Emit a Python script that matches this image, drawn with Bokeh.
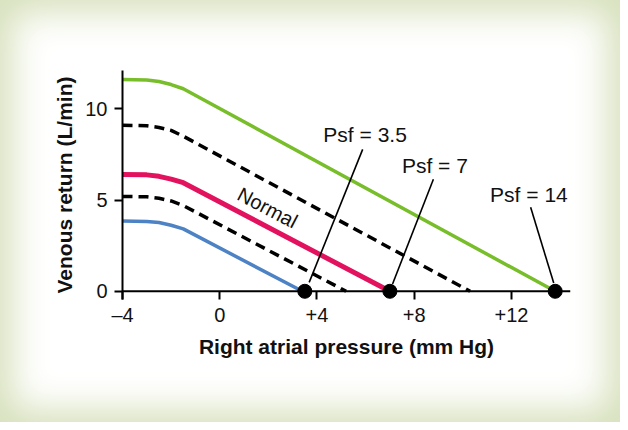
from bokeh.plotting import figure
from bokeh.models import Range1d, FixedTicker, Label, Span
from bokeh.core.properties import value
from bokeh.embed import file_html
from bokeh.resources import INLINE

# ---- data ----
green_x = [-4, -3, -2.5, -2, -1.5, 13.8]
green_y = [11.6, 11.58, 11.5, 11.33, 11.1, 0]
upper_dash_x = [-4, -3, -2.5, -2, -1.5, 10.3]
upper_dash_y = [9.1, 9.07, 8.98, 8.82, 8.5, 0]
red_x = [-4, -3, -2.5, -2, -1.5, 7.0]
red_y = [6.4, 6.38, 6.3, 6.15, 5.95, 0]
lower_dash_x = [-4, -3, -2.5, -2, -1.5, 5.2]
lower_dash_y = [5.2, 5.18, 5.1, 4.95, 4.7, 0]
blue_x = [-4, -3, -2.5, -2, -1.5, 3.4]
blue_y = [3.85, 3.83, 3.77, 3.62, 3.42, 0]

psf_x = [3.5, 7.0, 13.8]
psf_y = [0, 0, 0]
psf_labels = ["Psf = 3.5", "Psf = 7", "Psf = 14"]
psf_label_x = [5.98, 8.85, 12.72]
psf_label_y = [8.61, 6.89, 5.29]
leader_x0 = [5.88, 8.79, 12.79]
leader_y0 = [7.78, 6.14, 4.60]
leader_x1 = [3.68, 7.11, 13.74]
leader_y1 = [0.49, 0.40, 0.45]

x_ticks = [-4, 0, 4, 8, 12]
x_tick_labels = ["\u20134", "0", "+4", "+8", "+12"]
y_ticks = [0, 5, 10]

FONT = "Liberation Sans"

p = figure(width=620, height=422, output_backend="svg", toolbar_location=None,
           x_range=Range1d(-4, 14.43), y_range=Range1d(-0.45, 12.1),
           min_border_left=122, min_border_right=50, min_border_top=70,
           min_border_bottom=123)
p.border_fill_color = None
p.background_fill_color = None
p.outline_line_color = None
p.grid.visible = False
p.styles = {"background-color": "#ffffff",
            "box-shadow": "inset 0 0 36px 12px #d6e0bb"}

# axes
xa = p.xaxis[0]
xa.ticker = FixedTicker(ticks=x_ticks)
xa.major_label_overrides = dict(zip(x_ticks, x_tick_labels))
ya = p.yaxis[0]
ya.ticker = FixedTicker(ticks=y_ticks)
for ax in (xa, ya):
    ax.axis_line_width = 2
    ax.axis_line_color = "black"
    ax.major_tick_line_width = 2
    ax.major_tick_line_color = "black"
    ax.minor_tick_line_color = None
    ax.major_label_text_font = FONT
    ax.major_label_text_font_size = "20px"
    ax.major_label_text_color = "#111111"
    ax.axis_label_text_font = FONT
    ax.axis_label_text_font_size = "21px"
    ax.axis_label_text_font_style = "bold"
    ax.axis_label_text_color = "#111111"
# y axis: ticks outward
ya.major_tick_out = 8
ya.major_tick_in = 0
# x axis sits at frame bottom; its ticks reach up to the zero line
xa.axis_line_color = None
xa.major_tick_out = 0
xa.major_tick_in = 8
xa.axis_label = "Right atrial pressure (mm Hg)"
ya.axis_label = "Venous return (L/min)"
xa.major_label_standoff = 4
ya.major_label_standoff = 7
xa.axis_label_standoff = 6
ya.axis_label_standoff = 6

# zero line (visible x-axis line)
p.add_layout(Span(location=0, dimension="width", line_color="black",
                  line_width=2))

# curves
p.line(upper_dash_x, upper_dash_y, line_color="black", line_width=3.5,
       line_dash="10 6", line_join="round")
p.line(lower_dash_x, lower_dash_y, line_color="black", line_width=3.5,
       line_dash="10 6", line_join="round")
p.line(green_x, green_y, line_color="#78bd2a", line_width=3.5, line_join="round")
p.line(red_x, red_y, line_color="#e2125f", line_width=5, line_join="round")
p.line(blue_x, blue_y, line_color="#4d82c4", line_width=3.5, line_join="round")

# leader lines and dots
p.segment(leader_x0, leader_y0, leader_x1, leader_y1, line_color="black",
          line_width=1.6)
p.scatter(psf_x, psf_y, size=14, fill_color="black", line_color="black")

p.text(psf_label_x, psf_label_y, text=psf_labels, text_font=value(FONT),
       text_font_size="21px", text_align="center", text_baseline="middle",
       text_color="#111111")

p.add_layout(Label(x=1.97, y=4.58, text="Normal", angle=-0.483,
                   text_font=FONT, text_font_size="20px", text_align="center",
                   text_baseline="middle", text_color="#111111"))

open("out.html", "w").write(file_html(p, INLINE))
